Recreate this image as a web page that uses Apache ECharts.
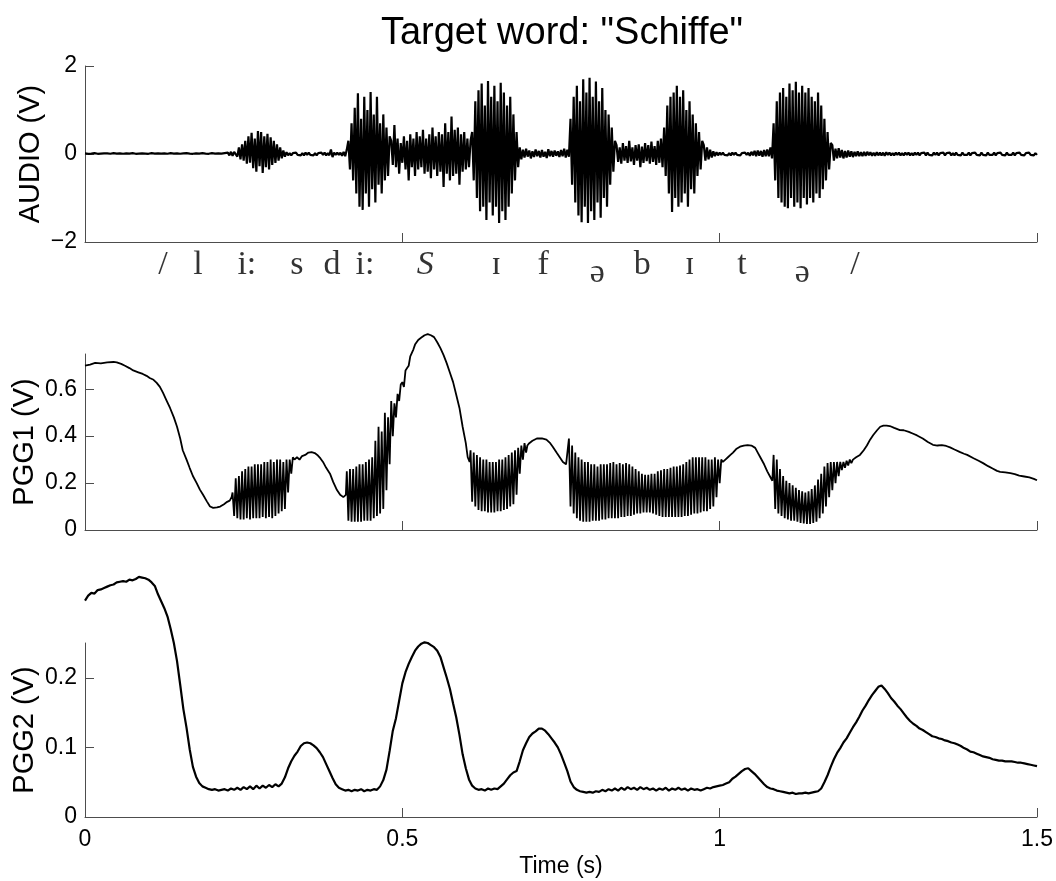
<!DOCTYPE html>
<html><head><meta charset="utf-8">
<script src="https://cdn.jsdelivr.net/npm/echarts@6/dist/echarts.min.js"></script>
<style>html,body{margin:0;padding:0;background:#fff}#c{width:1056px;height:881px}</style>
</head><body><div id="c"></div><script>
// ---------------- DATA ----------------
const TITLE = 'Target word: "Schiffe"';
const X_TICKS = [0, 0.5, 1, 1.5];
const AUDIO_TICKS = [-2, 0, 2];
const PGG1_TICKS = [0, 0.2, 0.4, 0.6];
const PGG2_TICKS = [0, 0.1, 0.2];

const phonemes = ['/', 'l', 'i:', 's', 'd', 'i:', 'S', 'ɪ', 'f', 'ə', 'b', 'ɪ', 't', 'ə', '/'];
const phonemeTimes = [0.123, 0.178, 0.255, 0.334, 0.389, 0.441, 0.536, 0.648, 0.722, 0.807, 0.878, 0.953, 1.035, 1.130, 1.213];

// AUDIO (V): sampled segments, step 0.0025 s
const AUDIO_DT = 0.0025;
const audioStarts = [0, 0.2375, 0.3175, 0.415, 0.4825, 0.61, 0.685, 0.765, 0.8375, 0.9125, 0.975, 1.085, 1.1775];
const audioQuiet1 = [0.015,-0.01,0.005,-0.02,0.01,-0.005,0.02,-0.015,0.005,-0.01,
0.01,-0.02,0.015,-0.005,0.015,-0.01,0.005,-0.015,0.02,-0.01,
0.01,-0.005,0.015,-0.02,0.005,-0.01,0.015,-0.015,0.01,-0.005,
0.02,-0.01,0.005,-0.015,0.01,-0.02,0.015,-0.005,0.01,-0.015,
0.005,-0.01,0.02,-0.015,0.01,-0.005,0.015,-0.02,0.01,-0.01,
0.015,-0.015,0.005,-0.01,0.02,-0.005,0.01,-0.02,0.015,-0.01,
0.005,-0.015,0.015,-0.005,0.02,-0.015,0.01,-0.01,0.005,-0.02,
0.015,-0.01,0.01,-0.015,0.02,-0.005,0.01,-0.015,0.005,-0.01,
0.02,-0.015,0.01,-0.005,0.015,-0.02,0.01,-0.015,0.02,-0.02,
0.03,-0.03,0.05,-0.04,0.05];
const audioBurst1 = [0.08,-0.06,0.15,-0.12,0.22,-0.15,0.3,-0.22,0.4,-0.2,0.48,-0.32,0.35,-0.4,0.52,-0.28,0.5,-0.43,0.4,-0.3,0.46,-0.35,0.38,-0.25,0.3,-0.2,0.22,-0.15,0.15,-0.1,0.08,-0.06];
const audioQuiet2 = [0.04,-0.03,0.02,-0.03,0.02,-0.02,0.03,-0.02,0.02,-0.03,
0.02,-0.03,0.03,-0.02,0.03,-0.02,0.02,-0.03,0.02,-0.03,
0.02,-0.02,0.03,-0.02,0.03,-0.03,0.02,-0.03,0.1,-0.07,
0.03,-0.02,0.03,-0.02,0.03,-0.04,0.05,-0.05,0.1];
const audioBurst2 = [0.3,-0.35,0.7,-0.6,1.05,-0.9,1.38,-1.2,0.8,-1.27,1.3,-0.9,1.0,-1.2,1.41,-0.8,0.9,-1.1,1.3,-0.7,0.7,-0.9,0.9,-0.6,0.6,-0.5,0.4];
const audioFricative = [0.3,-0.25,0.66,-0.3,0.35,-0.45,0.25,-0.2,0.4,-0.35,0.3,-0.6,0.45,-0.3,0.35,-0.5,0.5,-0.35,0.4,-0.3,
0.55,-0.45,0.35,-0.4,0.45,-0.55,0.6,-0.35,0.4,-0.5,0.5,-0.4,0.45,-0.75,0.7,-0.45,0.5,-0.6,0.85,-0.5,
0.55,-0.45,0.6,-0.7,0.45,-0.4,0.5,-0.35,0.35,-0.3,0.3];
const audioBurst3 = [0.5,-0.6,1.2,-1.0,1.45,-1.3,1.6,-1.2,1.1,-1.5,1.66,-1.1,1.3,-1.4,1.55,-1.2,1.2,-1.57,1.62,-1.3,1.4,-1.5,1.1,-1.2,1.3,-0.9,0.9,-0.6,0.5,-0.3];
const audioQuiet3 = [0.15,-0.12,0.1,-0.08,0.12,-0.06,0.08,-0.1,0.06,-0.07,0.1,-0.05,0.07,-0.08,0.09,-0.06,0.05,-0.09,0.11,-0.05,0.07,-0.06,0.08,-0.04,0.06,-0.07,0.09,-0.05,0.12,-0.08,0.1,-0.06];
const audioBurst4 = [0.8,-0.7,1.3,-1.1,1.55,-1.4,1.2,-1.55,1.7,-1.2,1.4,-1.57,1.73,-1.3,1.3,-1.5,1.65,-1.1,1.2,-1.45,1.5,-1.0,1.0,-1.2,0.9,-0.7,0.6,-0.4,0.3];
const audioNoise4 = [0.2,-0.18,0.15,-0.22,0.25,-0.15,0.18,-0.2,0.3,-0.17,0.15,-0.25,0.2,-0.15,0.22,-0.3,0.17,-0.2,0.25,-0.16,0.2,-0.22,0.28,-0.18,0.18,-0.25,0.3,-0.2,0.35,-0.3];
const audioBurst5 = [0.6,-0.5,1.1,-0.9,1.3,-1.32,1.4,-1.0,1.55,-1.2,1.3,-1.1,1.45,-0.9,1.0,-1.2,1.2,-0.8,0.9,-0.9,0.7,-0.5,0.5,-0.35,0.3];
const audioQuiet5 = [0.2,-0.15,0.15,-0.12,0.1,-0.08,0.06,-0.05,0.04,-0.03,0.03,-0.02,0.03,-0.02,0.02,-0.03,0.02,-0.03,0.03,-0.02,0.03,-0.02,0.02,-0.03,0.02,-0.02,0.03,-0.02,0.03,-0.04,0.05,-0.03,0.07,-0.05,0.08,-0.04,0.07,-0.06,0.09,-0.05,0.1,-0.05,0.15,-0.1];
const audioBurst6 = [0.7,-0.6,1.2,-1.0,1.4,-1.1,1.5,-1.2,1.3,-1.23,1.6,-1.0,1.45,-1.2,1.64,-1.1,1.4,-1.23,1.55,-1.0,1.4,-1.15,1.5,-1.0,1.3,-1.1,1.2,-0.9,1.4,-1.0,1.1,-0.8,0.8,-0.6,0.5,-0.35,0.25];
const audioTail = [0.2,-0.15,0.12,-0.1,0.13,-0.08,0.09,-0.1,0.07,-0.08,
0.08,-0.06,0.06,-0.07,0.05,-0.05,0.06,-0.05,0.04,-0.05,
0.05,-0.04,0.05,-0.03,0.04,-0.04,0.03,-0.04,0.04,-0.03,
0.03,-0.03,0.03,-0.04,0.04,-0.02,0.03,-0.03,0.02,-0.03,
0.03,-0.02,0.03,-0.03,0.02,-0.03,0.03,-0.02,0.03,-0.03,
0.02,-0.03,0.03,-0.02,0.03,-0.03,0.02,-0.02,0.03,-0.03,
0.03,-0.02,0.02,-0.03,0.03,-0.02,0.03,-0.03,0.02,-0.02,
0.03,-0.03,0.02,-0.02,0.03,-0.03,0.02,-0.03,0.03,-0.02,
0.02,-0.03,0.03,-0.02,0.02,-0.02,0.03,-0.03,0.02,-0.02,
0.03,-0.02,0.02,-0.03,0.03,-0.02,0.02,-0.03,0.03,-0.02,
0.02,-0.02,0.03,-0.03,0.02,-0.02,0.03,-0.02,0.02,-0.03,
0.03,-0.02,0.02,-0.02,0.03,-0.03,0.02,-0.02,0.03,-0.02,
0.02,-0.03,0.02,-0.02,0.03,-0.02,0.02,-0.03,0.02,-0.02];
const audioSegments = [audioQuiet1, audioBurst1, audioQuiet2, audioBurst2, audioFricative, audioBurst3, audioQuiet3, audioBurst4, audioNoise4, audioBurst5, audioQuiet5, audioBurst6, audioTail];

// PGG1 (V): smooth parts as [t, v]; vibrating parts sampled every 0.0025 s
const PGG_DT = 0.0025;
const pgg1SmoothA = [[0,0.70],[0.008,0.705],[0.016,0.712],[0.025,0.71],[0.035,0.714],[0.045,0.716],[0.05,0.714],[0.057,0.708],[0.063,0.70],[0.07,0.69],[0.076,0.68],[0.084,0.672],[0.091,0.665],[0.097,0.657],[0.102,0.648],[0.108,0.64],[0.113,0.627],[0.118,0.61],[0.123,0.584],[0.128,0.555],[0.134,0.52],[0.14,0.48],[0.145,0.44],[0.15,0.39],[0.154,0.34],[0.16,0.30],[0.165,0.264],[0.17,0.23],[0.176,0.20],[0.181,0.172],[0.186,0.15],[0.192,0.122],[0.197,0.10],[0.202,0.094],[0.208,0.096],[0.213,0.10],[0.219,0.11],[0.224,0.12],[0.228,0.125],[0.231,0.14]];
const pgg1Osc1 = [0.16,0.06,0.22,0.05,0.23,0.045,0.25,0.045,0.26,0.05,0.27,0.045,0.27,0.05,0.28,0.05,0.28,0.05,0.28,0.055,0.29,0.05,0.29,0.055,0.30,0.05,0.29,0.06,0.30,0.07,0.30,0.08,0.29,0.09,0.30,0.16,0.30,0.24,0.31];
const pgg1SmoothB = [[0.33,0.30],[0.334,0.31],[0.338,0.30],[0.342,0.315],[0.347,0.32],[0.352,0.33],[0.357,0.332],[0.362,0.328],[0.366,0.32],[0.371,0.305],[0.375,0.29],[0.38,0.265],[0.386,0.24],[0.391,0.205],[0.397,0.17],[0.402,0.15],[0.407,0.14],[0.411,0.15]];
const pgg1Osc2 = [0.25,0.04,0.26,0.035,0.26,0.035,0.27,0.035,0.28,0.035,0.28,0.04,0.29,0.04,0.30,0.04,0.31,0.05,0.38,0.06,0.44,0.07,0.42,0.09,0.50,0.17,0.48,0.28,0.55];
const pgg1SmoothC = [[0.485,0.40],[0.4875,0.54],[0.49,0.48],[0.4925,0.58],[0.495,0.55],[0.4975,0.62],[0.50,0.63],[0.5025,0.61],[0.505,0.68],[0.5075,0.69],[0.51,0.70],[0.5125,0.74],[0.515,0.745],[0.5175,0.77],[0.52,0.79],[0.5225,0.795],[0.525,0.81],[0.53,0.82],[0.535,0.83],[0.54,0.835],[0.545,0.83],[0.55,0.822],[0.555,0.80],[0.56,0.775],[0.565,0.745],[0.57,0.71],[0.575,0.67],[0.58,0.63],[0.585,0.575],[0.59,0.52],[0.595,0.44],[0.60,0.37],[0.603,0.31],[0.606,0.29]];
const pgg1Osc3 = [0.34,0.12,0.33,0.10,0.32,0.085,0.31,0.08,0.30,0.08,0.30,0.075,0.29,0.075,0.29,0.075,0.29,0.08,0.30,0.08,0.30,0.085,0.31,0.09,0.32,0.10,0.33,0.11,0.34,0.15,0.35,0.24,0.36,0.30,0.37,0.33];
const pgg1SmoothD = [[0.697,0.36],[0.70,0.37],[0.705,0.38],[0.712,0.39],[0.72,0.39],[0.727,0.385],[0.733,0.37],[0.737,0.355],[0.743,0.33],[0.748,0.31],[0.753,0.29],[0.758,0.28]];
const pgg1Osc4 = [0.39,0.10,0.36,0.07,0.33,0.05,0.31,0.04,
0.30,0.035,0.29,0.035,0.29,0.035,0.28,0.04,
0.28,0.04,0.27,0.04,0.28,0.045,0.28,0.045,
0.28,0.05,0.285,0.05,0.29,0.05,0.28,0.05,
0.285,0.055,0.28,0.055,0.285,0.06,0.28,0.06,
0.27,0.065,0.26,0.07,0.25,0.07,0.24,0.075,
0.235,0.075,0.235,0.075,0.24,0.07,0.24,0.065,
0.25,0.06,0.255,0.055,0.26,0.055,0.26,0.055,
0.265,0.055,0.27,0.055,0.27,0.055,0.275,0.055,
0.28,0.06,0.29,0.06,0.30,0.065,0.31,0.07,
0.31,0.07,0.31,0.075,0.31,0.08,0.31,0.08,
0.30,0.09,0.30,0.10,0.31,0.14,0.30,0.20,
0.30];
const pgg1SmoothE = [[1.005,0.29],[1.009,0.30],[1.013,0.31],[1.017,0.32],[1.021,0.33],[1.026,0.345],[1.032,0.355],[1.038,0.36],[1.044,0.362],[1.05,0.36],[1.056,0.35],[1.06,0.33],[1.064,0.31],[1.07,0.28],[1.075,0.25],[1.08,0.225],[1.083,0.21]];
const pgg1Osc5 = [0.32,0.09,0.30,0.07,0.26,0.06,0.23,0.05,0.21,0.045,0.20,0.04,0.19,0.04,0.18,0.035,0.17,0.03,0.165,0.028,0.16,0.026,0.165,0.026,0.175,0.03,0.19,0.035,0.215,0.05,0.24,0.07,0.27,0.10,0.285,0.14,0.29,0.17,0.29,0.20,0.29,0.23,0.29,0.255,0.29,0.265,0.295,0.275,0.30,0.285];
const pgg1SmoothF = [[1.21,0.30],[1.215,0.31],[1.221,0.32],[1.227,0.34],[1.232,0.36],[1.237,0.385],[1.242,0.405],[1.248,0.425],[1.253,0.44],[1.258,0.445],[1.263,0.445],[1.268,0.443],[1.275,0.435],[1.284,0.426],[1.29,0.425],[1.298,0.418],[1.305,0.41],[1.311,0.403],[1.32,0.39],[1.328,0.375],[1.336,0.363],[1.343,0.36],[1.35,0.362],[1.357,0.358],[1.363,0.352],[1.37,0.343],[1.378,0.333],[1.385,0.325],[1.39,0.32],[1.4,0.306],[1.408,0.295],[1.415,0.285],[1.423,0.272],[1.43,0.262],[1.437,0.252],[1.442,0.248],[1.45,0.246],[1.458,0.242],[1.465,0.238],[1.472,0.232],[1.48,0.228],[1.488,0.224],[1.495,0.218],[1.5,0.212]];
const pgg1OscStarts = [0.2325, 0.4125, 0.6075, 0.7625, 1.085];

// PGG2 (V): sampled every 0.005 s
const PGG2_DT = 0.005;
const pgg2Values = [
0.311,0.318,0.322,0.321,0.326,0.327,0.329,0.331,0.333,0.334,0.337,0.338,0.339,0.338,0.341,0.340,0.342,0.345,0.344,0.343,
0.341,0.337,0.332,0.32,0.31,0.30,0.288,0.27,0.25,0.224,0.19,0.155,0.128,0.097,0.072,0.058,0.049,0.044,0.042,0.040,
0.039,0.040,0.038,0.039,0.040,0.038,0.041,0.039,0.042,0.039,0.043,0.040,0.044,0.040,0.045,0.041,0.045,0.042,0.046,0.043,
0.047,0.044,0.048,0.057,0.07,0.08,0.088,0.094,0.102,0.106,0.107,0.106,0.103,0.099,0.093,0.086,0.076,0.066,0.056,0.047,
0.042,0.040,0.038,0.039,0.037,0.039,0.038,0.040,0.037,0.039,0.038,0.040,0.039,0.044,0.053,0.068,0.095,0.124,0.142,0.167,
0.192,0.208,0.22,0.23,0.239,0.245,0.249,0.251,0.25,0.247,0.244,0.239,0.23,0.215,0.20,0.184,0.163,0.143,0.118,0.09,
0.07,0.054,0.045,0.041,0.039,0.040,0.038,0.041,0.039,0.041,0.040,0.044,0.048,0.054,0.060,0.064,0.066,0.08,0.096,0.106,
0.115,0.12,0.123,0.127,0.127,0.124,0.119,0.113,0.107,0.1,0.09,0.078,0.066,0.051,0.043,0.039,0.037,0.036,0.035,0.036,
0.035,0.037,0.036,0.039,0.037,0.040,0.038,0.041,0.038,0.042,0.039,0.043,0.040,0.042,0.039,0.043,0.040,0.042,0.039,0.041,
0.038,0.041,0.039,0.042,0.038,0.041,0.039,0.042,0.039,0.041,0.038,0.041,0.039,0.040,0.038,0.040,0.042,0.041,0.043,0.044,
0.045,0.046,0.048,0.050,0.055,0.058,0.062,0.066,0.069,0.070,0.066,0.062,0.057,0.052,0.047,0.043,0.041,0.040,0.038,0.037,
0.036,0.035,0.034,0.035,0.033,0.034,0.034,0.035,0.034,0.035,0.036,0.037,0.041,0.05,0.06,0.072,0.083,0.092,0.099,0.107,
0.113,0.121,0.129,0.136,0.144,0.153,0.16,0.168,0.175,0.181,0.187,0.189,0.184,0.178,0.171,0.166,0.16,0.155,0.149,0.143,
0.138,0.134,0.131,0.127,0.125,0.122,0.119,0.116,0.115,0.113,0.112,0.110,0.109,0.107,0.106,0.104,0.102,0.099,0.097,0.094,
0.093,0.091,0.089,0.087,0.086,0.085,0.083,0.082,0.081,0.081,0.080,0.080,0.080,0.079,0.078,0.078,0.077,0.076,0.075,0.074,
0.073];

// ---------------- BUILD ----------------
function sampled(t0, dt, vals) { return vals.map((v, i) => [+(t0 + i * dt).toFixed(5), v]); }
let audioData = [];
audioSegments.forEach((seg, k) => { audioData = audioData.concat(sampled(audioStarts[k], AUDIO_DT, seg)); });
const pgg1Data = [].concat(
  pgg1SmoothA, sampled(pgg1OscStarts[0], PGG_DT, pgg1Osc1),
  pgg1SmoothB, sampled(pgg1OscStarts[1], PGG_DT, pgg1Osc2),
  pgg1SmoothC, sampled(pgg1OscStarts[2], PGG_DT, pgg1Osc3),
  pgg1SmoothD, sampled(pgg1OscStarts[3], PGG_DT, pgg1Osc4),
  pgg1SmoothE, sampled(pgg1OscStarts[4], PGG_DT, pgg1Osc5),
  pgg1SmoothF);
const pgg2Data = sampled(0, PGG2_DT, pgg2Values);

const SANS = '"Liberation Sans", Arial, Helvetica, sans-serif';
const SERIF = '"Liberation Serif", "DejaVu Serif", "Times New Roman", serif';
const AXC = { color: '#4d4d4d', width: 1 };
const TICK_FS = 23, NAME_FS = 29;

function xAxis(gi, labels) {
  return {
    type: 'value', gridIndex: gi, min: 0, max: 1.5, interval: 0.5, show: gi !== 1,
    axisLine: { show: true, onZero: false, lineStyle: AXC },
    axisTick: { show: true, inside: true, length: 9, lineStyle: AXC, customValues: X_TICKS },
    axisLabel: { show: labels, color: '#000', fontSize: TICK_FS, fontFamily: SANS, margin: 11, customValues: X_TICKS },
    splitLine: { show: false },
    name: labels ? 'Time (s)' : '', nameLocation: 'middle', nameGap: 38, nameMoveOverlap: false,
    nameTextStyle: { color: '#000', fontSize: TICK_FS, fontFamily: SANS }
  };
}
function yAxis(gi, min, max, interval, ticks, name, gap, fmt) {
  return {
    type: 'value', gridIndex: gi, min, max, interval,
    axisLine: { show: true, onZero: false, lineStyle: AXC },
    axisTick: { show: true, inside: true, length: 9, lineStyle: AXC, customValues: ticks },
    axisLabel: { color: '#000', fontSize: TICK_FS, fontFamily: SANS, margin: 8, customValues: ticks, formatter: fmt },
    splitLine: { show: false },
    name, nameLocation: 'middle', nameRotate: 90, nameGap: gap, nameMoveOverlap: false,
    nameTextStyle: { color: '#000', fontSize: NAME_FS, fontFamily: SANS }
  };
}
const minusFmt = v => (v < 0 ? '\u2212' + Math.abs(v) : String(v));

const phonemeData = phonemes.map((p, i) => ({
  value: [phonemeTimes[i], 0.5], name: p,
  label: {
    fontStyle: p === 'S' ? 'italic' : 'normal',
    offset: p === 'ə' ? [0, 8] : [0, 0]
  }
}));

const chart = echarts.init(document.getElementById('c'), null, { renderer: 'canvas' });
chart.setOption({
  animation: false,
  backgroundColor: '#fff',
  title: { text: TITLE, left: 557, textAlign: 'center', top: 10,
    textStyle: { color: '#000', fontSize: 38, fontWeight: 'normal', fontFamily: SANS } },
  grid: [
    { left: 85, top: 66, width: 952, height: 176, outerBoundsMode: 'none' },
    { left: 85, top: 245, width: 952, height: 40, outerBoundsMode: 'none' },
    { left: 85, top: 354, width: 952, height: 176, outerBoundsMode: 'none' },
    { left: 85, top: 643, width: 952, height: 174, outerBoundsMode: 'none' }
  ],
  xAxis: [xAxis(0, false), xAxis(1, false), xAxis(2, false), xAxis(3, true)],
  yAxis: [
    yAxis(0, -2, 2, 2, AUDIO_TICKS, 'AUDIO (V)', 40, minusFmt),
    { type: 'value', gridIndex: 1, min: 0, max: 1, show: false },
    yAxis(2, 0, 0.75, 0.2, PGG1_TICKS, 'PGG1 (V)', 46),
    yAxis(3, 0, 0.25, 0.1, PGG2_TICKS, 'PGG2 (V)', 46)
  ],
  series: [
    { type: 'line', xAxisIndex: 0, yAxisIndex: 0, data: audioData, showSymbol: false, clip: false,
      lineStyle: { color: '#000', width: 2.2 } },
    { type: 'scatter', xAxisIndex: 1, yAxisIndex: 1, data: phonemeData, symbolSize: 1,
      itemStyle: { color: 'rgba(0,0,0,0)' },
      label: { show: true, position: 'inside', formatter: '{b}', color: '#000', fontSize: 34, fontFamily: SERIF } },
    { type: 'line', xAxisIndex: 2, yAxisIndex: 2, data: pgg1Data, showSymbol: false, clip: false,
      lineStyle: { color: '#000', width: 1.8 } },
    { type: 'line', xAxisIndex: 3, yAxisIndex: 3, data: pgg2Data, showSymbol: false, clip: false,
      lineStyle: { color: '#000', width: 2.2 } }
  ]
});
</script></body></html>
